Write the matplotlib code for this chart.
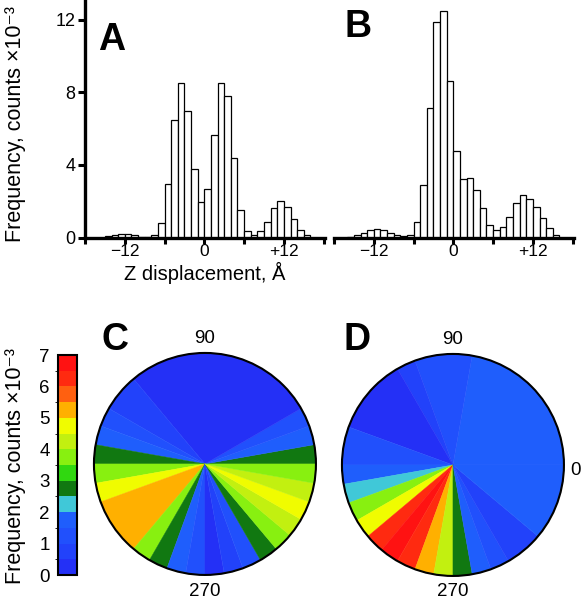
"""
Z displacement histograms (A, B) and angular frequency pies (C, D).
"""

from itertools import groupby
import numpy as np
import matplotlib
matplotlib.use('Agg')
import matplotlib.pyplot as plt
from matplotlib.colors import ListedColormap, BoundaryNorm
from matplotlib.patches import Circle
import matplotlib.cm as cm

plt.rcParams['font.family'] = ['Liberation Sans', 'DejaVu Sans']

# # histogram data, frequency (counts x10^-3) per 1 A bin, left edges below
BIN_LEFT = list(range(-16, 16))
FREQ_A = [0.0, 0.07, 0.16, 0.22, 0.22, 0.13, 0.05, 0.04, 0.16, 0.8, 2.95, 6.5, 8.5, 7.0, 3.8, 1.96,
          2.7, 5.67, 8.5, 7.8, 4.4, 1.5, 0.36, 0.15, 0.36, 0.85, 1.6, 2.0, 1.7, 1.04, 0.44, 0.13]
FREQ_B = [0.04, 0.16, 0.27, 0.4, 0.45, 0.44, 0.27, 0.16, 0.09, 0.16, 0.85, 2.9, 7.16, 11.9, 12.5, 8.64,
          4.76, 3.25, 3.3, 2.64, 1.64, 0.67, 0.4, 0.58, 1.13, 1.9, 2.35, 2.13, 1.67, 1.09, 0.55, 0.16]
X_TICKS = [-18, -12, -6, 0, 6, 12, 18]
X_TICKLABELS = ['', '\u221212', '', '0', '', '+12', '']
Y_TICKS = [0, 4, 8, 12]

# # angular data, frequency per 10 degree sector, counterclockwise from 0
FREQ_C = [2.7, 1.7, 1.2, 0.2, 0.2, 0.2, 0.2, 0.2, 0.2, 0.2, 0.2, 0.2, 0.2, 0.6, 0.8, 1.3, 1.8, 2.7,
          3.7, 4.7, 5.2, 5.2, 5.2, 3.7, 2.7, 1.7, 1.2, 0.4, 0.9, 1.3, 2.7, 3.7, 4.2, 4.7, 4.2, 3.7]
FREQ_D = [1.8, 1.8, 1.8, 1.8, 1.8, 1.8, 1.8, 1.8, 1.2, 1.2, 1.2, 0.7, 0.2, 0.2, 0.2, 0.2, 1.2, 1.2,
          1.8, 2.2, 3.7, 4.7, 6.2, 6.7, 6.4, 5.2, 4.2, 2.7, 1.7, 1.2, 0.7, 0.7, 1.8, 1.8, 1.8, 1.8]

# colour scale, 0.5 steps from 0 to 7
CB_LEVELS = np.arange(0, 7.01, 0.5)
CB_COLORS = ['#2430f6', '#2242fa', '#2150fc', '#1f5efc', '#40c8d8', '#117811', '#30d810',
             '#88f010', '#c2f010', '#f0fc00', '#ffb000', '#ff6010', '#ff2a10', '#ff1212']
CB_TICKS = [0, 1, 2, 3, 4, 5, 6, 7]

W, H = 581, 601
CMAP = ListedColormap(CB_COLORS)
NORM = BoundaryNorm(CB_LEVELS, CMAP.N)
YLABEL = 'Frequency, counts \u00d710\u207b\u00b3'


def px_axes(fig, left, top, width, height):
    """Add axes given in pixel coords measured from the top-left corner."""
    return fig.add_axes([left / W, (H - top - height) / H, width / W, height / H])


def plot_hist(ax, freq, left_spine=True):
    ax.bar(BIN_LEFT, freq, width=1, align='edge', color='white', edgecolor='black', linewidth=0.9)
    ax.set_xlim(-18, 18.2)
    ax.set_ylim(0, 13.1)
    for s in ['top', 'right']:
        ax.spines[s].set_visible(False)
    ax.spines['bottom'].set_linewidth(2.4)
    ax.spines['left'].set_linewidth(2.4)
    ax.set_xticks(X_TICKS)
    ax.set_xticklabels(X_TICKLABELS)
    ax.tick_params(axis='x', direction='out', length=4.5, width=2.2, labelsize=12.5, pad=0)
    if left_spine:
        ax.set_yticks(Y_TICKS)
        ax.tick_params(axis='y', direction='out', length=5, width=2.2, labelsize=13, pad=2)
    else:
        ax.spines['left'].set_visible(False)
        ax.set_yticks([])


def plot_pie(ax, freq, labels):
    # merge neighbouring sectors of the same colour so no seams show
    bins = [int(NORM(v)) for v in freq]
    runs = [(k, len(list(g))) for k, g in groupby(bins)]
    colors = [CMAP(k) for k, _ in runs]
    sizes = [n for _, n in runs]
    wedges, _ = ax.pie(sizes, colors=colors, startangle=0, counterclock=True, radius=1,
                       wedgeprops=dict(linewidth=0.3))
    for w, c in zip(wedges, colors):
        w.set_edgecolor(c)
    ax.add_patch(Circle((0, 0), 1, fill=False, edgecolor='black', linewidth=1.5))
    ax.set_xlim(-1.15, 1.15)
    ax.set_ylim(-1.15, 1.15)
    ax.set_aspect('equal')
    ax.axis('off')
    for (x, y, txt) in labels:
        ax.text(x, y, txt, ha='center', va='center', fontsize=13.5, clip_on=False)


fig = plt.figure(figsize=(W / 100, H / 100), dpi=100)

# histograms
ax_a = px_axes(fig, 85, 0, 240, 237.5)
plot_hist(ax_a, FREQ_A)
ax_b = px_axes(fig, 334, 0, 240, 237.5)
plot_hist(ax_b, FREQ_B, left_spine=False)

fig.text(16 / W, 1 - 124 / H, YLABEL, rotation=90, ha='center', va='center', fontsize=15.5)
fig.text(205 / W, 1 - 261.5 / H, 'Z displacement, \u00c5', ha='center', va='top', fontsize=14.5)

# pies, radius 1 = 111 px
ax_c = px_axes(fig, 205 - 127.7, 464 - 127.7, 255.3, 255.3)
plot_pie(ax_c, FREQ_C, [(0, 1.13, '90'), (0, -1.15, '270')])
ax_d = px_axes(fig, 453 - 127.7, 465 - 127.7, 255.3, 255.3)
plot_pie(ax_d, FREQ_D, [(0, 1.13, '90'), (0, -1.14, '270'), (1.1, -0.05, '0')])

# colour bar
ax_cb = px_axes(fig, 58, 355, 19, 220)
sm = cm.ScalarMappable(norm=NORM, cmap=CMAP)
cb = fig.colorbar(sm, cax=ax_cb, ticks=CB_TICKS)
cb.outline.set_linewidth(1.5)
ax_cb.yaxis.set_ticks_position('left')
ax_cb.tick_params(length=0, labelsize=13.5, pad=6)
fig.text(16 / W, 1 - 466 / H, YLABEL, rotation=90, ha='center', va='center', fontsize=15.5)

# panel letters
for (x, y, s) in [(112, 40, 'A'), (358, 27, 'B'), (115, 340, 'C'), (357, 340, 'D')]:
    fig.text(x / W, 1 - y / H, s, ha='center', va='center', fontsize=27, fontweight='bold')

plt.savefig('out.png', dpi=100)
